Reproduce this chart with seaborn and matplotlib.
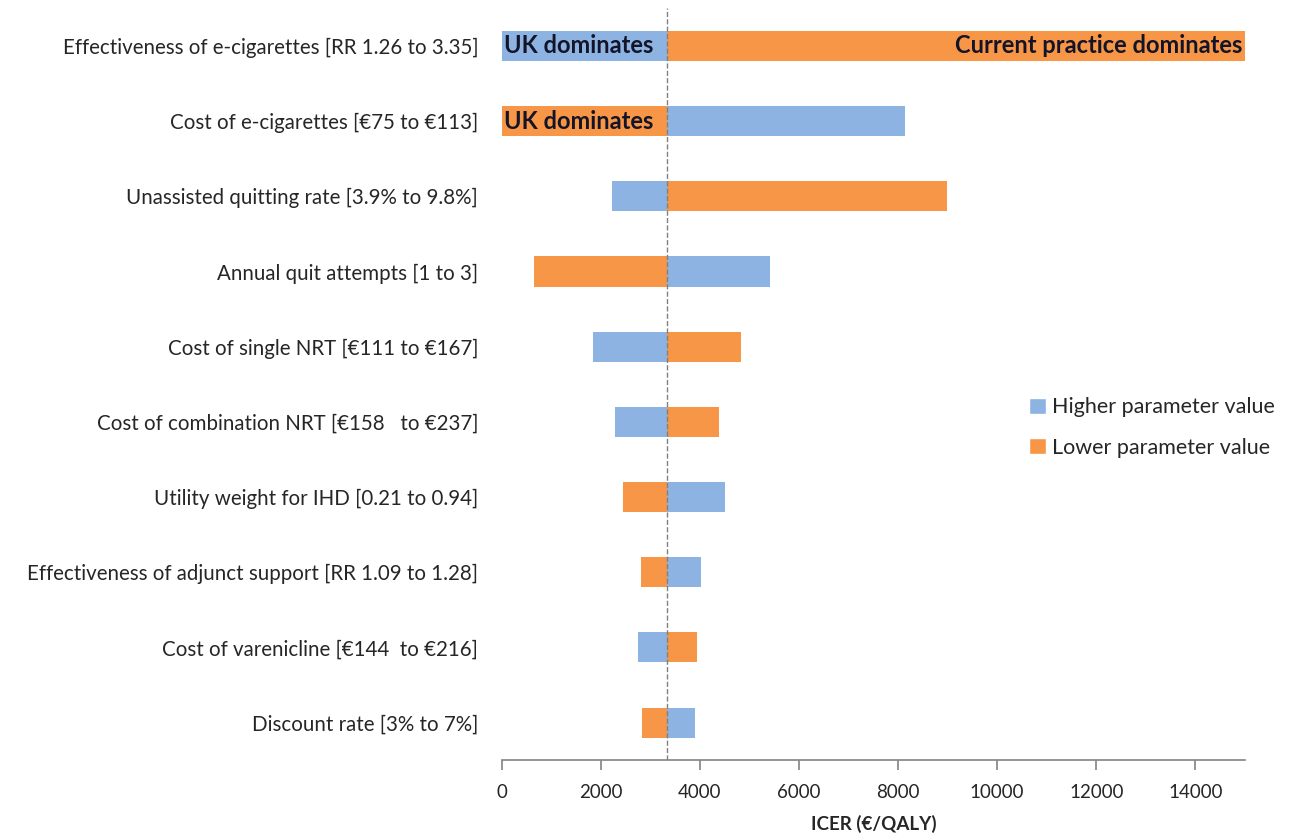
import pandas as pd
import matplotlib.pyplot as plt
import seaborn as sns

# Tornado diagram: one-way sensitivity of the ICER
params = [
    'Effectiveness of e-cigarettes [RR 1.26 to 3.35]',
    'Cost of e-cigarettes [€75 to €113]',
    'Unassisted quitting rate [3.9% to 9.8%]',
    'Annual quit attempts [1 to 3]',
    'Cost of single NRT [€111 to €167]',
    'Cost of combination NRT [€158   to €237]',
    'Utility weight for IHD [0.21 to 0.94]',
    'Effectiveness of adjunct support [RR 1.09 to 1.28]',
    'Cost of varenicline [€144  to €216]',
    'Discount rate [3% to 7%]',
]
higher_icer = [0, 8140, 2220, 5410, 1840, 2280, 4500, 4020, 2750, 3900]
lower_icer = [15000, 0, 8990, 650, 4830, 4380, 2440, 2810, 3940, 2830]
base_icer = 3340
series_names = ['Higher parameter value', 'Lower parameter value']
blue = '#8DB3E2'
orange = '#F79646'

df = pd.DataFrame({
    'Parameter': params * 2,
    'Scenario': [series_names[0]] * len(params) + [series_names[1]] * len(params),
    'ICER': higher_icer + lower_icer,
})

sns.set_theme(style='white')
plt.rcParams['font.family'] = ['Lato', 'DejaVu Sans']

fig = plt.figure(figsize=(12.9, 8.4), dpi=100)
ax = fig.add_axes([0.389, 0.095, 0.576, 0.895])

sns.barplot(data=df, x='ICER', y='Parameter', hue='Scenario', orient='h',
            dodge=False, width=0.4, palette=[blue, orange], ax=ax,
            saturation=1, errorbar=None)

# move bars so they start at the base-case ICER
for container in ax.containers:
    for bar in container:
        v = bar.get_width()
        bar.set_x(min(v, base_icer))
        bar.set_width(abs(v - base_icer))
        bar.set_edgecolor('none')

ax.axvline(base_icer, color='#808080', linestyle='--', linewidth=1, zorder=3)

# labels inside the extreme bars
txt = dict(fontsize=17, fontweight='bold', color='#141428', va='center')
ax.text(40, 0, 'UK dominates', ha='left', **txt)
ax.text(40, 1, 'UK dominates', ha='left', **txt)
ax.text(14940, 0, 'Current practice dominates', ha='right', **txt)

ax.set_xlim(0, 15000)
ax.set_ylim(9.5, -0.5)
ax.set_xticks(range(0, 15000, 2000))
ax.set_xlabel('ICER (€/QALY)', fontsize=13.5, fontweight='bold', labelpad=10)
ax.set_ylabel('')
ax.tick_params(axis='x', labelsize=13.5, length=7, color='#888888', direction='out', bottom=True, pad=10)
ax.tick_params(axis='y', labelsize=14.8, length=0, pad=17)
for side in ['top', 'right', 'left']:
    ax.spines[side].set_visible(False)
ax.spines['bottom'].set_color('#888888')

leg = ax.legend(loc='upper left', bbox_to_anchor=(0.783, 0.55), bbox_transform=fig.transFigure,
                frameon=False, fontsize=15.5, handlelength=0.75, handleheight=0.75,
                handletextpad=0.3, labelspacing=0.95)

plt.savefig('out.png', dpi=100)
